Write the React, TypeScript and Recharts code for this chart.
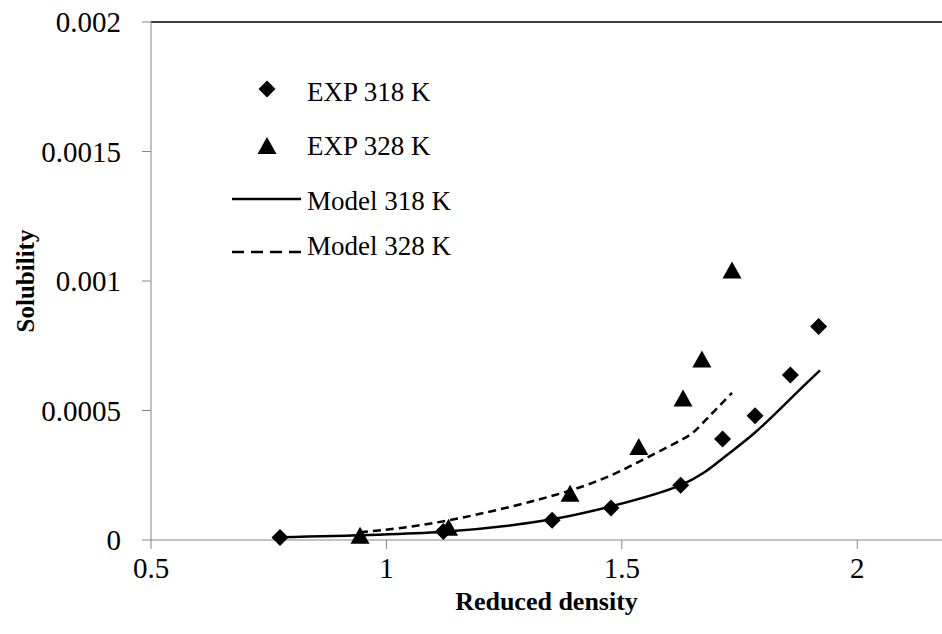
import React from 'react';
import { ComposedChart, Line, Scatter, XAxis, YAxis, ReferenceLine } from 'recharts';

const exp318 = [
  { x: 0.774, y: 0.00001 },
  { x: 1.121, y: 0.000033 },
  { x: 1.352, y: 0.000076 },
  { x: 1.477, y: 0.000124 },
  { x: 1.625, y: 0.000211 },
  { x: 1.714, y: 0.00039 },
  { x: 1.783, y: 0.00048 },
  { x: 1.858, y: 0.000637 },
  { x: 1.918, y: 0.000824 },
];

const exp328 = [
  { x: 0.944, y: 0.000013 },
  { x: 1.132, y: 0.000043 },
  { x: 1.39, y: 0.000175 },
  { x: 1.536, y: 0.000355 },
  { x: 1.63, y: 0.000542 },
  { x: 1.67, y: 0.000693 },
  { x: 1.734, y: 0.001037 },
];

// model curves
const model318 = [
  { x: 0.774, y: 0.000011 },
  { x: 1.121, y: 0.000032 },
  { x: 1.352, y: 0.00008 },
  { x: 1.477, y: 0.00013 },
  { x: 1.625, y: 0.000212 },
  { x: 1.714, y: 0.000315 },
  { x: 1.783, y: 0.000415 },
  { x: 1.858, y: 0.000545 },
  { x: 1.921, y: 0.000655 },
];

const model328 = [
  { x: 0.944, y: 0.00003 },
  { x: 1.132, y: 0.000076 },
  { x: 1.39, y: 0.000191 },
  { x: 1.536, y: 0.000302 },
  { x: 1.63, y: 0.00039 },
  { x: 1.67, y: 0.000448 },
  { x: 1.734, y: 0.000568 },
];

const xTicks = [0.5, 1, 1.5, 2];
const yTicks = [0, 0.0005, 0.001, 0.0015, 0.002];

const FONT = '"Liberation Serif", "Times New Roman", serif';
const AXIS_GRAY = '#868686';

const Diamond = (props: any) => {
  const { cx, cy } = props;
  const r = 8.5;
  return <path d={`M${cx},${cy - r} L${cx + r},${cy} L${cx},${cy + r} L${cx - r},${cy} Z`} fill="#000" />;
};

const Triangle = (props: any) => {
  const { cx, cy } = props;
  return <path d={`M${cx},${cy - 10} L${cx + 9.5},${cy + 7} L${cx - 9.5},${cy + 7} Z`} fill="#000" />;
};

const LegendBox = () => (
  <svg width={280} height={220} style={{ position: 'absolute', left: 220, top: 60, fontFamily: FONT }}>
    <path d="M47,20.5 L55.5,29 L47,37.5 L38.5,29 Z" fill="#000" />
    <path d="M47,77 L56.5,94 L37.5,94 Z" fill="#000" />
    <line x1={12} y1={139} x2={81} y2={139} stroke="#000" strokeWidth={2.5} />
    <line x1={12} y1={192} x2={81} y2={192} stroke="#000" strokeWidth={2.5} strokeDasharray="12 7" />
    <text x={87} y={32} fontSize={27} dominantBaseline="central">EXP 318 K</text>
    <text x={87} y={86} fontSize={27} dominantBaseline="central">EXP 328 K</text>
    <text x={87} y={141} fontSize={27} dominantBaseline="central">Model 318 K</text>
    <text x={87} y={186} fontSize={27} dominantBaseline="central">Model 328 K</text>
  </svg>
);

export default function App() {
  return (
    <div style={{ position: 'absolute', left: 0, top: 0, width: 942, height: 634, background: '#fff', fontFamily: FONT }}>
      <style>{`svg text, svg tspan { font-family: ${FONT} !important; }`}</style>
      <ComposedChart
        width={942}
        height={634}
        margin={{ top: 22, right: 0, bottom: 0, left: 0 }}
        style={{ fontFamily: FONT }}
      >
        <XAxis
          type="number"
          dataKey="x"
          domain={[0.5, 2.18]}
          ticks={xTicks}
          allowDataOverflow
          height={94}
          tickSize={9}
          tickMargin={8}
          stroke={AXIS_GRAY}
          tick={{ fill: '#000', fontSize: 29, fontFamily: FONT }}
          label={{
            value: 'Reduced density',
            position: 'insideBottom',
            offset: 24,
            style: { fontSize: 26, fontWeight: 'bold', fill: '#000', fontFamily: FONT },
          }}
        />
        <YAxis
          type="number"
          dataKey="y"
          domain={[0, 0.002]}
          ticks={yTicks}
          width={151}
          tickSize={9}
          tickMargin={21}
          stroke={AXIS_GRAY}
          tick={{ fill: '#000', fontSize: 29, fontFamily: FONT }}
          label={{
            value: 'Solubility',
            angle: -90,
            position: 'insideLeft',
            offset: 25,
            style: { fontSize: 25, fontWeight: 'bold', fill: '#000', fontFamily: FONT, textAnchor: 'middle' },
          }}
        />
        <ReferenceLine y={0.002} stroke="#000" strokeWidth={1.5} />
        <Line
          data={model318}
          dataKey="y"
          type="natural"
          stroke="#000"
          strokeWidth={2.5}
          dot={false}
          isAnimationActive={false}
          name="Model 318 K"
        />
        <Line
          data={model328}
          dataKey="y"
          type="natural"
          stroke="#000"
          strokeWidth={2.5}
          strokeDasharray="8 5"
          dot={false}
          isAnimationActive={false}
          name="Model 328 K"
        />
        <Scatter data={exp318} dataKey="y" shape={Diamond} isAnimationActive={false} name="EXP 318 K" />
        <Scatter data={exp328} dataKey="y" shape={Triangle} isAnimationActive={false} name="EXP 328 K" />
      </ComposedChart>
      <LegendBox />
    </div>
  );
}
